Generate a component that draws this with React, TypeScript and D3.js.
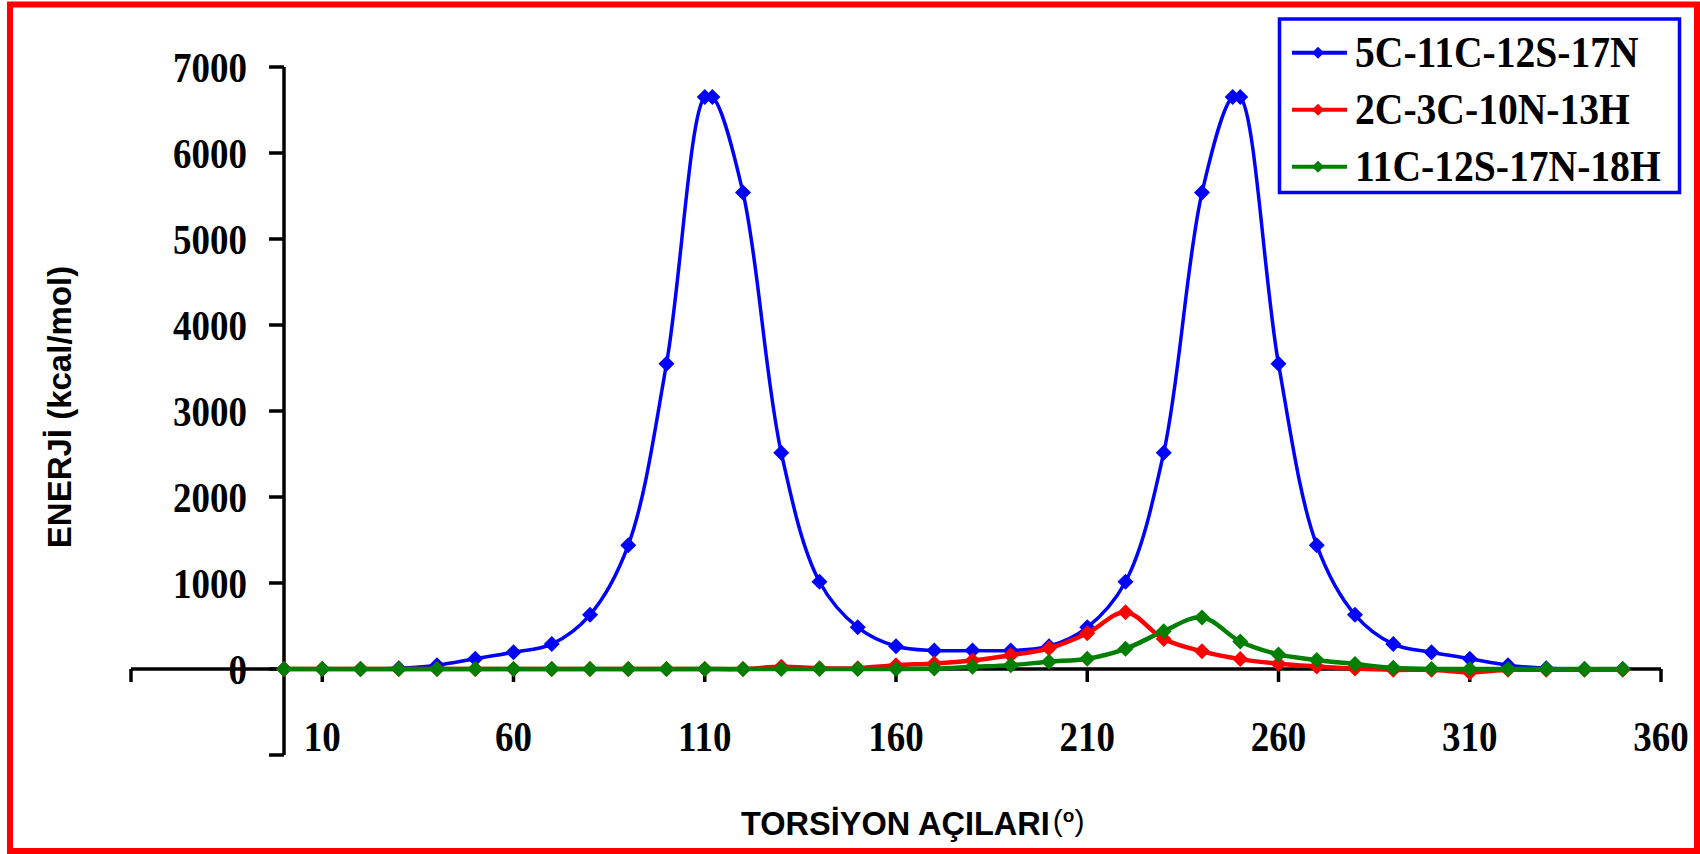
import React from "react";
import * as d3 from "d3";

// ---- data ----
const ANGLES = [0, 10, 20, 30, 40, 50, 60, 70, 80, 90, 100, 110, 120, 130, 140, 150, 160, 170, 180, 190, 200, 210, 220, 230, 240, 250, 260, 270, 280, 290, 300, 310, 320, 330, 340, 350];
const S1_ANGLES = [0, 10, 20, 30, 40, 50, 60, 70, 80, 90, 100, 110, 112, 120, 130, 140, 150, 160, 170, 180, 190, 200, 210, 220, 230, 240, 248, 250, 260, 270, 280, 290, 300, 310, 320, 330, 340, 350];
const S1_VALUES = [0, 0, 0, 8, 45, 120, 195, 290, 630, 1440, 3550, 6650, 6650, 5540, 2515, 1015, 485, 265, 215, 215, 215, 265, 485, 1015, 2515, 5540, 6650, 6650, 3550, 1440, 630, 290, 195, 120, 45, 8, 0, 0];
const S2_VALUES = [0, 0, 0, 0, 0, 0, 0, 0, 0, 0, 0, 0, 0, 25, 10, 10, 45, 65, 100, 160, 240, 415, 660, 350, 205, 115, 62, 30, 5, -10, -10, -40, -10, -10, -10, -10];
const S3_VALUES = [0, 0, 0, 0, 0, 0, 0, 0, 0, 0, 0, 0, 0, 0, 0, 0, 0, 5, 25, 45, 85, 120, 235, 440, 600, 320, 170, 105, 58, 15, 0, 0, 0, 0, 0, 0];
const SERIES_NAMES = ["5C-11C-12S-17N", "2C-3C-10N-13H", "11C-12S-17N-18H"];
const SERIES_COLORS = ["#0000FF", "#FF0000", "#007F00"];
const X_TICKS = [-40, 10, 60, 110, 160, 210, 260, 310, 360];
const X_LABELS = [10, 60, 110, 160, 210, 260, 310, 360];
const Y_TICKS = [-1000, 0, 1000, 2000, 3000, 4000, 5000, 6000, 7000];
const Y_LABELS = [0, 1000, 2000, 3000, 4000, 5000, 6000, 7000];
const X_TITLE = "TORSİYON AÇILARI";
const Y_TITLE = "ENERJİ (kcal/mol)";

const W = 1700;
const H = 854;

export default function App() {
  const x = d3.scaleLinear().domain([-40, 360]).range([131, 1661]);
  const y = d3.scaleLinear().domain([-1000, 7000]).range([755, 67]);
  const x0 = x(0);
  const y0 = y(0);

  const series = [
    { name: SERIES_NAMES[0], color: SERIES_COLORS[0], width: 3.5, pts: S1_ANGLES.map((a, i) => [a, S1_VALUES[i]] as [number, number]) },
    { name: SERIES_NAMES[1], color: SERIES_COLORS[1], width: 4.5, pts: ANGLES.map((a, i) => [a, S2_VALUES[i]] as [number, number]) },
    { name: SERIES_NAMES[2], color: SERIES_COLORS[2], width: 4.5, pts: ANGLES.map((a, i) => [a, S3_VALUES[i]] as [number, number]) },
  ];

  const line = d3
    .line<[number, number]>()
    .x((d) => x(d[0]))
    .y((d) => y(d[1]))
    .curve(d3.curveCatmullRom.alpha(0.5));

  const diamond = (cx: number, cy: number, r: number) =>
    `M${cx},${cy - r}L${cx + r},${cy}L${cx},${cy + r}L${cx - r},${cy}Z`;

  const serif = "'Liberation Serif', 'Times New Roman', serif";
  const sans = "'Liberation Sans', Arial, sans-serif";

  return (
    <svg
      width={W}
      height={H}
      style={{ position: "absolute", left: 0, top: 0, background: "#fff" }}
    >
      <rect x={0} y={0} width={W} height={H} fill="#fff" />
      {/* chart frame */}
      <rect x={10} y={4.5} width={1687} height={846.5} fill="none" stroke="#FF0000" strokeWidth={6} />

      {/* axes */}
      <g stroke="#000" strokeWidth={3.5} fill="none">
        <line x1={x(-40)} x2={x(360)} y1={y0} y2={y0} />
        {X_TICKS.map((t) => (
          <line key={"xt" + t} x1={x(t)} x2={x(t)} y1={y0} y2={y0 + 13} />
        ))}
        <line x1={x0} x2={x0} y1={y(7000)} y2={y(-1000)} />
        {Y_TICKS.map((t) => (
          <line key={"yt" + t} x1={x0 - 15} x2={x0} y1={y(t)} y2={y(t)} />
        ))}
      </g>

      {/* tick labels */}
      <g fontFamily={serif} fontWeight="bold" fontSize={42} fill="#000">
        {Y_LABELS.map((t) => (
          <text
            key={"yl" + t}
            transform={`translate(247, ${y(t)}) scale(0.88, 1)`}
            dy="0.35em"
            textAnchor="end"
          >
            {t}
          </text>
        ))}
        {X_LABELS.map((t) => (
          <text
            key={"xl" + t}
            transform={`translate(${x(t)}, 751) scale(0.88, 1)`}
            textAnchor="middle"
          >
            {t}
          </text>
        ))}
      </g>

      {/* series */}
      {series.map((s) => (
        <g key={s.name}>
          <path d={line(s.pts) || ""} fill="none" stroke={s.color} strokeWidth={s.width} strokeLinejoin="round" />
          {s.pts.map((p, i) => (
            <path key={i} d={diamond(x(p[0]), y(p[1]), 8)} fill={s.color} />
          ))}
        </g>
      ))}

      {/* axis titles */}
      <text
        x={741}
        y={835}
        fontFamily={sans}
        fontWeight="bold"
        fontSize={32.5}
        fill="#000"
      >
        {X_TITLE}
        <tspan fontWeight="normal" fontSize={30} dx={3} dy={-4}>(</tspan>
        <tspan fontSize={19} dy={-9}>o</tspan>
        <tspan fontWeight="normal" fontSize={30} dy={9}>)</tspan>
      </text>
      <text
        transform={`translate(71, 407) rotate(-90)`}
        textAnchor="middle"
        fontFamily={sans}
        fontWeight="bold"
        fontSize={33}
        fill="#000"
      >
        {Y_TITLE}
      </text>

      {/* legend */}
      <rect x={1279.5} y={19} width={1399.5 - 1279.5 + 280} height={173.5} fill="#fff" stroke="#0000FF" strokeWidth={3.5} />
      {series.map((s, i) => {
        const cy = 52.7 + i * 57;
        return (
          <g key={"lg" + i}>
            <line x1={1292} x2={1347} y1={cy} y2={cy} stroke={s.color} strokeWidth={4} />
            <path d={diamond(1318, cy, 6)} fill={s.color} />
            <text
              transform={`translate(1355, ${cy + 14.5}) scale(0.9, 1)`}
              fontFamily={serif}
              fontWeight="bold"
              fontSize={44}
              fill="#000"
            >
              {s.name}
            </text>
          </g>
        );
      })}
    </svg>
  );
}
